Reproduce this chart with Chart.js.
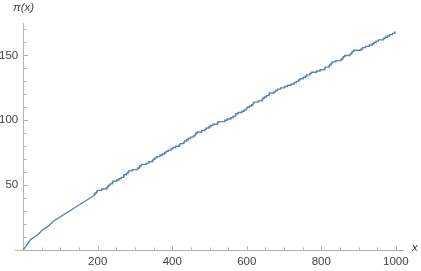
<!DOCTYPE html>
<html>
<head>
<meta charset="utf-8">
<script src="https://cdn.jsdelivr.net/npm/chart.js@4/dist/chart.umd.min.js"></script>
<style>
html,body{margin:0;padding:0;background:#fff;}
#c{display:block;}
</style>
</head>
<body>
<canvas id="c" width="421" height="271"></canvas>
<script>
// Smooth-looking early part of the curve (sampled x, pi(x))
const earlyX = [0, 10, 20, 30, 40, 50, 60, 70, 80, 190];
const earlyY = [0, 4, 8, 10, 12, 15, 17, 19, 22, 42];
// Stepped part: primes from 191 on with their counts pi(p)
const stepX = [190,191,193,197,199,211,223,227,229,233,239,241,251,257,263,269,271,277,281,283,293,307,311,313,317,331,337,347,349,353,359,367,373,379,383,389,397,401,409,419,421,431,433,439,443,449,457,461,463,467,479,487,491,499,503,509,521,523,541,547,557,563,569,571,577,587,593,599,601,607,613,617,619,631,641,643,647,653,659,661,673,677,683,691,701,709,719,727,733,739,743,751,757,761,769,773,787,797,809,811,821,823,827,829,839,853,857,859,863,877,881,883,887,907,911,919,929,937,941,947,953,967,971,977,983,991,997,1000];
const stepY = [42,43,44,45,46,47,48,49,50,51,52,53,54,55,56,57,58,59,60,61,62,63,64,65,66,67,68,69,70,71,72,73,74,75,76,77,78,79,80,81,82,83,84,85,86,87,88,89,90,91,92,93,94,95,96,97,98,99,100,101,102,103,104,105,106,107,108,109,110,111,112,113,114,115,116,117,118,119,120,121,122,123,124,125,126,127,128,129,130,131,132,133,134,135,136,137,138,139,140,141,142,143,144,145,146,147,148,149,150,151,152,153,154,155,156,157,158,159,160,161,162,163,164,165,166,167,168,168];
const xMajorTicks = [200, 400, 600, 800, 1000];
const xMinorTicks = [50, 100, 150, 250, 300, 350, 450, 500, 550, 650, 700, 750, 850, 900, 950];
const yMajorTicks = [50, 100, 150];
const yMinorTicks = [10, 20, 30, 40, 60, 70, 80, 90, 110, 120, 130, 140, 160, 170];
const yAxisTitle = "π(x)";
const xAxisTitle = "x";

const lineColor = '#5E81B5';
const axisColor = '#b3b3b3';
const labelColor = '#444444';
const font = '11.5px "Liberation Sans", Arial, sans-serif';

const axesPlugin = {
  id: 'mmaAxes',
  beforeDatasetsDraw(chart) {
    const ctx = chart.ctx;
    const xs = chart.scales.x, ys = chart.scales.y;
    const x0 = xs.getPixelForValue(0);
    const y0 = ys.getPixelForValue(0);
    const left = chart.chartArea.left, right = chart.chartArea.right, top = chart.chartArea.top;
    ctx.save();
    ctx.strokeStyle = axisColor;
    ctx.lineWidth = 1;
    ctx.beginPath();
    ctx.moveTo(left, Math.round(y0) + 0.5);
    ctx.lineTo(right, Math.round(y0) + 0.5);
    ctx.moveTo(Math.round(x0) + 0.5, Math.round(y0));
    ctx.lineTo(Math.round(x0) + 0.5, top);
    // x ticks
    xMajorTicks.forEach(v => {
      const p = Math.round(xs.getPixelForValue(v)) + 0.5;
      ctx.moveTo(p, Math.round(y0)); ctx.lineTo(p, Math.round(y0) - 4);
    });
    xMinorTicks.forEach(v => {
      const p = Math.round(xs.getPixelForValue(v)) + 0.5;
      ctx.moveTo(p, Math.round(y0)); ctx.lineTo(p, Math.round(y0) - 2.5);
    });
    yMajorTicks.forEach(v => {
      const p = Math.round(ys.getPixelForValue(v)) + 0.5;
      ctx.moveTo(Math.round(x0) + 1, p); ctx.lineTo(Math.round(x0) + 5, p);
    });
    yMinorTicks.forEach(v => {
      const p = Math.round(ys.getPixelForValue(v)) + 0.5;
      ctx.moveTo(Math.round(x0) + 1, p); ctx.lineTo(Math.round(x0) + 3.5, p);
    });
    ctx.stroke();

    ctx.fillStyle = labelColor;
    ctx.font = font;
    ctx.textAlign = 'center';
    ctx.textBaseline = 'middle';
    xMajorTicks.forEach(v => {
      ctx.fillText(String(v), xs.getPixelForValue(v), y0 + 11.5);
    });
    ctx.textAlign = 'right';
    yMajorTicks.forEach(v => {
      ctx.fillText(String(v), x0 - 5, ys.getPixelForValue(v));
    });
    ctx.font = 'italic 11.5px "Liberation Sans", Arial, sans-serif';
    ctx.textAlign = 'left';
    ctx.fillText(yAxisTitle, 13, 8);
    ctx.fillText(xAxisTitle, 412, y0 - 2);
    ctx.restore();
  }
};

new Chart(document.getElementById('c'), {
  type: 'scatter',
  data: {
    datasets: [
      {
        data: earlyX.map((x, i) => ({x: x, y: earlyY[i]})),
        showLine: true, borderColor: lineColor, borderWidth: 1.4,
        pointRadius: 0, fill: false, tension: 0
      },
      {
        data: stepX.map((x, i) => ({x: x, y: stepY[i]})),
        showLine: true, stepped: 'before', borderColor: lineColor, borderWidth: 1.4,
        pointRadius: 0, fill: false
      }
    ]
  },
  options: {
    responsive: false,
    animation: false,
    devicePixelRatio: 1,
    layout: { padding: { left: 15, right: 17, top: 23, bottom: 21 } },
    plugins: { legend: { display: false }, tooltip: { enabled: false } },
    scales: {
      x: { type: 'linear', min: -22, max: 1022, display: false },
      y: { type: 'linear', min: 0, max: 175, display: false }
    }
  },
  plugins: [axesPlugin]
});
</script>
</body>
</html>
